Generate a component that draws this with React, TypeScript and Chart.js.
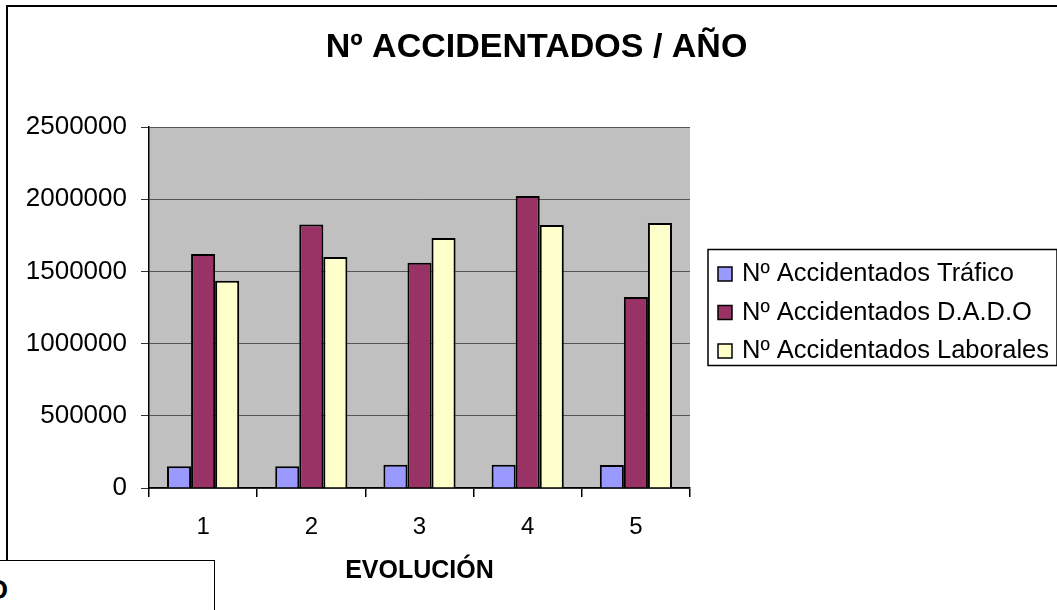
import React, { useEffect, useRef } from 'react';
import { Chart, registerables, layouts } from 'chart.js';

Chart.register(...registerables);

const CATEGORIES = ['1', '2', '3', '4', '5'];
const TRAFICO = [150000, 150000, 161000, 161000, 160000];
const DADO = [1620000, 1825000, 1560000, 2022000, 1323000];
const LABORALES = [1435000, 1600000, 1732000, 1822000, 1836000];
const SERIES_NAMES = ['Nº Accidentados Tráfico', 'Nº Accidentados D.A.D.O', 'Nº Accidentados Laborales'];
const SERIES_COLORS = ['#9999FF', '#993366', '#FFFFCC'];
const Y_MIN = 0;
const Y_MAX = 2500000;
const Y_STEP = 500000;
const TITLE = 'Nº ACCIDENTADOS / AÑO';
const X_TITLE = 'EVOLUCIÓN';
const CUT_TEXT = 'O';

const FONT = "'Liberation Sans', Arial, Helvetica, sans-serif";

const plotBg = {
  id: 'plotBg',
  beforeDraw(chart: any) {
    const { ctx, chartArea: ca } = chart;
    ctx.save();
    ctx.fillStyle = '#C0C0C0';
    ctx.fillRect(ca.left, ca.top, ca.right - ca.left, ca.bottom - ca.top);
    ctx.restore();
  },
};

const framedLegend = {
  id: 'framedLegend',
  beforeInit(chart: any) {
    const box: any = {
      position: 'right',
      weight: 100,
      fullSize: false,
      options: {},
      left: 0, top: 0, right: 0, bottom: 0, width: 0, height: 0,
      isHorizontal: () => false,
      update(maxW: number, maxH: number) {
        box.width = 367;
        box.height = maxH;
      },
      draw() {
        const ctx = chart.ctx;
        const ca = chart.chartArea;
        ctx.save();
        ctx.font = `25.5px ${FONT}`;
        const items = chart.data.datasets;
        const maxTW = Math.max(...items.map((d: any) => ctx.measureText(d.label).width));
        const x0 = box.left + 18;
        const w = 10 + 15 + 9 + maxTW + 8;
        const h = 116;
        const cy = (ca.top + ca.bottom) / 2;
        const y0 = cy - h / 2;
        ctx.fillStyle = '#fff';
        ctx.fillRect(x0, y0, w, h);
        ctx.strokeStyle = '#000';
        ctx.lineWidth = 1.5;
        ctx.strokeRect(x0, y0, w, h);
        items.forEach((d: any, i: number) => {
          const ry = cy + 5 + (i - 1) * 38.5;
          ctx.fillStyle = d.backgroundColor;
          ctx.fillRect(x0 + 10, ry - 7, 14, 14);
          ctx.strokeStyle = '#000';
          ctx.lineWidth = 1.5;
          ctx.strokeRect(x0 + 10, ry - 7, 14, 14);
          ctx.fillStyle = '#000';
          ctx.textBaseline = 'middle';
          ctx.textAlign = 'left';
          ctx.fillText(d.label, x0 + 34, ry);
        });
        ctx.restore();
      },
    };
    layouts.addBox(chart, box);
  },
};

export default function App() {
  const ref = useRef<HTMLCanvasElement | null>(null);

  useEffect(() => {
    if (!ref.current) return;
    const chart = new Chart(ref.current, {
      type: 'bar',
      data: {
        labels: CATEGORIES,
        datasets: [
          { label: SERIES_NAMES[0], data: TRAFICO, backgroundColor: SERIES_COLORS[0] },
          { label: SERIES_NAMES[1], data: DADO, backgroundColor: SERIES_COLORS[1] },
          { label: SERIES_NAMES[2], data: LABORALES, backgroundColor: SERIES_COLORS[2] },
        ].map((d) => ({
          ...d,
          borderColor: '#000',
          borderWidth: 2,
          categoryPercentage: 0.667,
          barPercentage: 1,
        })),
      },
      options: {
        animation: false,
        responsive: false,
        devicePixelRatio: 1,
        layout: { padding: { left: 16, right: 0, top: 0, bottom: 0 } },
        plugins: {
          legend: { display: false },
          tooltip: { enabled: false },
          title: {
            display: true,
            text: TITLE,
            color: '#000',
            font: { family: FONT, size: 34, weight: 'bold' },
            padding: { top: 27, bottom: 59.2 },
          },
        },
        scales: {
          x: {
            afterFit: (axis: any) => { axis.height = 122; },
            grid: {
              display: true,
              drawOnChartArea: false,
              drawTicks: true,
              tickLength: 9,
              color: '#000',
              lineWidth: 1.5,
            },
            border: { display: true, color: '#000', width: 1.5 },
            ticks: { color: '#000', font: { family: FONT, size: 24 }, padding: 16 },
            title: {
              display: true,
              text: X_TITLE,
              color: '#000',
              font: { family: FONT, size: 25, weight: 'bold' },
              padding: { top: 0, bottom: 24 },
            },
          },
          y: {
            min: Y_MIN,
            max: Y_MAX,
            afterFit: (axis: any) => { axis.width = 133; },
            grid: {
              color: '#555',
              lineWidth: 1,
              tickLength: 8,
              tickColor: '#333',
            },
            border: { display: true, color: '#000', width: 1.5 },
            ticks: {
              stepSize: Y_STEP,
              color: '#000',
              font: { family: FONT, size: 26 },
              padding: 14,
              callback: (v: any) => String(v),
            },
          },
        },
      },
      plugins: [plotBg, framedLegend],
    } as any);
    return () => chart.destroy();
  }, []);

  return (
    <div style={{ position: 'absolute', left: 0, top: 0, width: 1057, height: 610, overflow: 'hidden', background: '#fff' }}>
      <div style={{ position: 'absolute', left: 6, top: 5, width: 1200, height: 800, borderLeft: '2px solid #000', borderTop: '2px solid #000' }} />
      <canvas ref={ref} width={1057} height={610} style={{ position: 'absolute', left: 0, top: 0 }} />
      <div style={{ position: 'absolute', left: -60, top: 560, width: 273, height: 100, border: '1.5px solid #000', background: '#fff' }}>
        <span style={{ position: 'absolute', left: 46, top: 16, fontFamily: FONT, fontWeight: 'bold', fontSize: 27, lineHeight: '27px', color: '#000' }}>{CUT_TEXT}</span>
      </div>
    </div>
  );
}
